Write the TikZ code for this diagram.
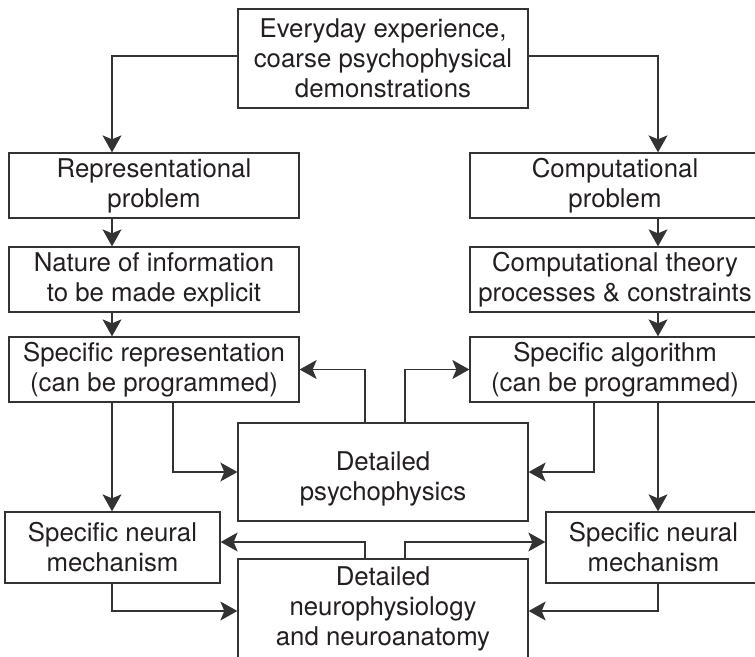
\documentclass[tikz,border=0pt]{standalone}
\usepackage{fontspec}
\setmainfont{TeX Gyre Heros}
\usetikzlibrary{arrows.meta}
\definecolor{linegray}{HTML}{333333}
\definecolor{textdark}{HTML}{231F20}

\begin{document}
\begin{tikzpicture}[x=1pt, y=-1pt,
  box/.style={draw=linegray, line width=1.3pt, inner sep=0pt, align=center,
    text=textdark, font=\fontsize{25.8}{30}\selectfont},
  widebox/.style={box, minimum width=290pt},
  flow/.style={draw=linegray, line width=1.2pt,
    -{Stealth[length=17pt, width=19pt, inset=4pt]}}
]
\useasboundingbox (0,0) rectangle (755,656);
\clip (0,0) rectangle (755,656);

% boxes
\node[widebox, minimum height=99pt] (top) at (383,58.5)
  {Everyday experience,\\coarse psychophysical\\demonstrations};
\node[widebox, minimum height=65pt] (rep) at (154,185.5)
  {Representational\\problem};
\node[widebox, minimum height=65pt] (comp) at (615,185.5)
  {Computational\\problem};
\node[widebox, minimum height=65pt] (nature) at (154,279.5)
  {Nature of information\\to be made explicit};
\node[widebox, minimum height=65pt] (theory) at (615,279.5)
  {Computational theory\\processes \& constraints};
\node[widebox, minimum height=65pt] (specrep) at (154,369.5)
  {Specific representation\\(can be programmed)};
\node[widebox, minimum height=65pt] (specalg) at (615,369.5)
  {Specific algorithm\\(can be programmed)};
\node[widebox, minimum height=98pt] (psycho) at (383,472)
  {\rule{0pt}{32.5pt}Detailed\\psychophysics};
\node[box, minimum width=215pt, minimum height=71pt] (neurL) at (112.5,547.5)
  {Specific neural\\mechanism};
\node[box, minimum width=215pt, minimum height=71pt] (neurR) at (653.5,547.5)
  {Specific neural\\mechanism};
\node[widebox, minimum height=104pt] (neuro) at (383,611)
  {Detailed\\neurophysiology\\and neuroanatomy\rule[-9pt]{0pt}{9pt}};

% vertical routing lines
\coordinate (xleft) at (112,0);
\coordinate (xright) at (658,0);
\coordinate (xupL) at (365,0);
\coordinate (xupR) at (405,0);
\coordinate (xdownL) at (173,0);
\coordinate (xdownR) at (594,0);

% connectors
\draw[flow] ([yshift=2.5pt]top.west) -| (rep.north -| xleft);
\draw[flow] ([yshift=2.5pt]top.east) -| (comp.north -| xright);
\draw[flow] (rep.south -| xleft) -- (nature.north -| xleft);
\draw[flow] (nature.south -| xleft) -- (specrep.north -| xleft);
\draw[flow] (comp.south -| xright) -- (theory.north -| xright);
\draw[flow] (theory.south -| xright) -- (specalg.north -| xright);
\draw[flow] (psycho.north -| xupL) |- (specrep.east);
\draw[flow] (psycho.north -| xupR) |- (specalg.west);
\draw[flow] (specrep.south -| xdownL) |- (psycho.west);
\draw[flow] (specalg.south -| xdownR) |- (psycho.east);
\draw[flow] (specrep.south -| xleft) -- (neurL.north -| xleft);
\draw[flow] (specalg.south -| xright) -- (neurR.north -| xright);
\draw[flow] (neuro.north -| xupL) |- ([yshift=5.5pt]neurL.east);
\draw[flow] (neuro.north -| xupR) |- ([yshift=5.5pt]neurR.west);
\draw[flow] (neurL.south -| xleft) |- (neuro.west);
\draw[flow] (neurR.south -| xright) |- (neuro.east);
\end{tikzpicture}
\end{document}
